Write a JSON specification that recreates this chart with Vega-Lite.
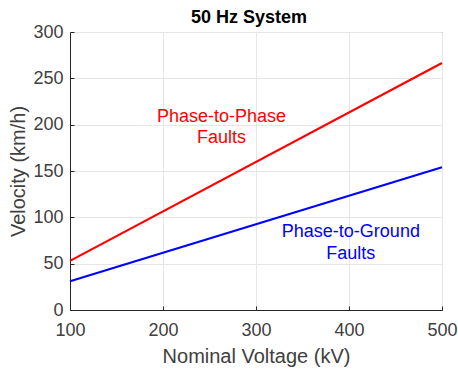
{
  "$schema": "https://vega.github.io/schema/vega-lite/v6.json",
  "width": 372,
  "height": 278,
  "autosize": {"type": "none"},
  "padding": {"left": 70, "top": 32, "right": 16, "bottom": 59},
  "background": "white",
  "title": {"text": "50 Hz System", "font": "Liberation Sans", "fontSize": 18, "fontWeight": "bold", "color": "black", "offset": -4, "dx": -7},
  "config": {
    "view": {"stroke": "#262626", "strokeWidth": 1},
    "axis": {
      "labelFont": "Liberation Sans", "labelFontSize": 18, "labelColor": "#404040", "labelFlush": false, "labelOverlap": false,
      "titleFont": "Liberation Sans", "titleFontSize": 20, "titleColor": "#404040", "titleFontWeight": "normal",
      "domainColor": "#262626", "tickColor": "#262626", "tickSize": -4,
      "gridColor": "#e6e6e6", "gridOpacity": 1
    }
  },
  "layer": [
    {
      "data": {"values": [
        {"voltage": 100, "velocity": 53, "fault": "Phase-to-Phase"},
        {"voltage": 500, "velocity": 266.5, "fault": "Phase-to-Phase"},
        {"voltage": 100, "velocity": 31, "fault": "Phase-to-Ground"},
        {"voltage": 500, "velocity": 154, "fault": "Phase-to-Ground"}
      ]},
      "mark": {"type": "line", "strokeWidth": 2.2},
      "encoding": {
        "x": {"field": "voltage", "type": "quantitative", "scale": {"domain": [100, 500], "nice": false}, "axis": {"values": [100, 200, 300, 400, 500], "title": "Nominal Voltage (kV)", "labelPadding": 15, "titlePadding": 7}},
        "y": {"field": "velocity", "type": "quantitative", "scale": {"domain": [0, 300], "nice": false}, "axis": {"values": [0, 50, 100, 150, 200, 250, 300], "title": "Velocity (km/h)", "labelPadding": 11, "titlePadding": 4}},
        "color": {"field": "fault", "type": "nominal", "scale": {"domain": ["Phase-to-Phase", "Phase-to-Ground"], "range": ["#ff0000", "#0000ff"]}, "legend": null}
      }
    },
    {
      "data": {"values": [
        {"voltage": 263, "velocity": 208.3, "label": "Phase-to-Phase", "fault": "Phase-to-Phase"},
        {"voltage": 263, "velocity": 185.6, "label": "Faults", "fault": "Phase-to-Phase"},
        {"voltage": 402, "velocity": 84.5, "label": "Phase-to-Ground", "fault": "Phase-to-Ground"},
        {"voltage": 402, "velocity": 60.1, "label": "Faults", "fault": "Phase-to-Ground"}
      ]},
      "mark": {"type": "text", "font": "Liberation Sans", "fontSize": 18, "align": "center", "baseline": "middle"},
      "encoding": {
        "x": {"field": "voltage", "type": "quantitative"},
        "y": {"field": "velocity", "type": "quantitative"},
        "text": {"field": "label"},
        "color": {"field": "fault", "type": "nominal"}
      }
    }
  ]
}
